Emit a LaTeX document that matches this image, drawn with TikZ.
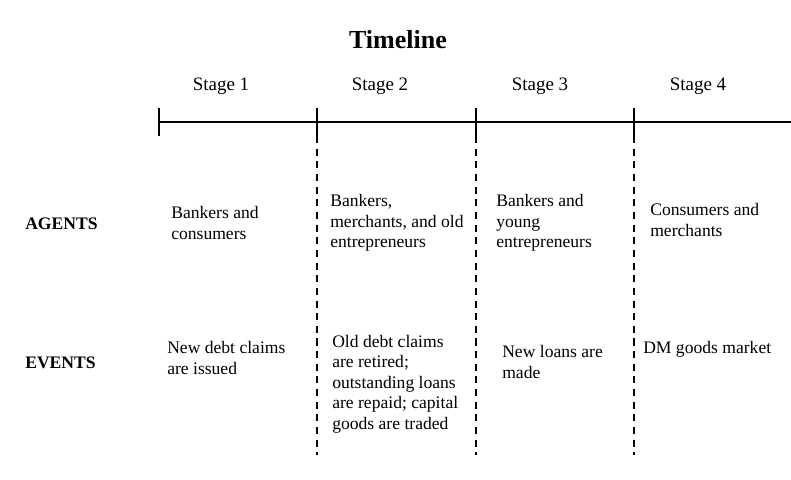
\documentclass[tikz,border=0pt]{standalone}
\usepackage{fontspec}
\setmainfont{Liberation Serif}
\tikzset{
  stagelbl/.style={font=\fontsize{13.5}{16}\selectfont, inner sep=0pt},
  rowlbl/.style={font=\fontsize{12.5}{15}\selectfont\bfseries, anchor=west, inner sep=0pt},
  cell/.style={font=\fontsize{12.5}{14.6}\selectfont, align=left, anchor=west, inner sep=0pt},
  tick/.style={line width=1.4pt},
  divider/.style={dashed, line width=0.9pt, dash pattern=on 5pt off 4pt}
}
\begin{document}
\begin{tikzpicture}[x=0.025cm, y=-0.025cm]
\useasboundingbox (0,0) rectangle (791,480);

% Titre
\node[font=\fontsize{18.5}{22}\selectfont\bfseries, inner sep=0pt] (title) at (398,40) {Timeline};

% Axe
\coordinate (t1) at (159,122);
\coordinate (t2) at (317,122);
\coordinate (t3) at (476,122);
\coordinate (t4) at (634,122);
\coordinate (tend) at (791,122);
\draw[tick] (t1) -- (tend);
\foreach \t in {t1,t2,t3,t4} {
  \draw[tick] ([yshift=0.35cm]\t) -- ([yshift=-0.35cm]\t);
}

% Etapes
\node[stagelbl] (s1) at (221,86) {Stage 1};
\node[stagelbl] (s2) at (380,86) {Stage 2};
\node[stagelbl] (s3) at (540,86) {Stage 3};
\node[stagelbl] (s4) at (698,86) {Stage 4};

% Separations
\coordinate (d2) at (317,455);
\coordinate (d3) at (476,455);
\coordinate (d4) at (634,455);
\draw[divider] ([yshift=-0.35cm]t2) -- (d2);
\draw[divider] ([yshift=-0.35cm]t3) -- (d3);
\draw[divider] ([yshift=-0.35cm]t4) -- (d4);

% Lignes
\node[rowlbl] (agents) at (25,224) {AGENTS};
\node[rowlbl] (events) at (25,363) {EVENTS};

% Agents
\node[cell] (a1) at (171,223) {Bankers and\\consumers};
\node[cell] (a2) at (330,223) {Bankers,\\merchants, and old\\entrepreneurs};
\node[cell] (a3) at (496,223) {Bankers and\\young\\entrepreneurs};
\node[cell] (a4) at (650,220) {Consumers and\\merchants};

% Evenements
\node[cell] (e1) at (167,358) {New debt claims\\are issued};
\node[cell] (e2) at (332,384) {Old debt claims\\are retired;\\outstanding loans\\are repaid; capital\\goods are traded};
\node[cell] (e3) at (502,362) {New loans are\\made};
\node[cell] (e4) at (643,349) {DM goods market};

\end{tikzpicture}
\end{document}
